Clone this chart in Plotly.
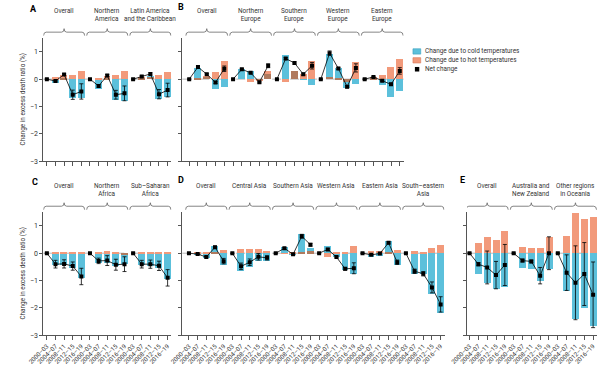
import plotly.graph_objects as go

W, H = 600, 368

periods = ["2000–03", "2004–07", "2008–11", "2012–15", "2016–19"]

# Panel A - Americas
groups_A = ["Overall", "Northern<br>America", "Latin America<br>and the Caribbean"]
cold_A = [0, -0.13, 0.02, -0.71, -0.70, 0, -0.35, 0.03, -0.76, -0.80, 0, 0.05, 0.12, -0.73, -0.65]
hot_A = [0, 0.06, 0.15, 0.16, 0.28, 0, 0.05, 0.12, 0.13, 0.30, 0, 0.06, 0.08, 0.16, 0.25]
net_A = [0, -0.07, 0.17, -0.57, -0.45, 0, -0.25, 0.13, -0.57, -0.52, 0, 0.10, 0.19, -0.55, -0.40]
err_A = [0, 0.03, 0.03, 0.17, 0.28, 0, 0.05, 0.04, 0.16, 0.27, 0, 0.03, 0.04, 0.17, 0.25]

# Panel B - Europe
groups_B = ["Overall", "Northern<br>Europe", "Southern<br>Europe", "Western<br>Europe", "Eastern<br>Europe"]
cold_B = [0, 0.41, 0.08, -0.37, -0.28, 0, 0.38, 0.31, -0.03, 0.20, 0, 0.89, 0.28, -0.02, -0.20,
          0, 0.92, 0.42, -0.31, -0.17, 0, 0.03, -0.22, -0.65, -0.42]
hot_B = [0, 0.05, 0.10, 0.25, 0.65, 0, 0.0, -0.10, -0.08, 0.29, 0, -0.10, 0.30, 0.20, 0.67,
         0, 0.08, 0.02, -0.10, 0.61, 0, 0.08, 0.16, 0.45, 0.75]
net_B = [0, 0.44, 0.18, -0.12, 0.38, 0, 0.36, 0.23, -0.11, 0.49, 0, 0.75, 0.59, 0.18, 0.49,
         0, 0.95, 0.39, -0.28, 0.41, 0, 0.08, -0.06, -0.19, 0.30]
err_B = [0, 0.03, 0.03, 0.04, 0.10, 0, 0.03, 0.03, 0.03, 0.07, 0, 0.04, 0.04, 0.04, 0.12,
         0, 0.08, 0.04, 0.04, 0.15, 0, 0.02, 0.03, 0.04, 0.12]

# Panel C - Africa
groups_C = ["Overall", "Northern<br>Africa", "Sub–Saharan<br>Africa"]
cold_C = [0, -0.45, -0.45, -0.53, -0.90, 0, -0.35, -0.35, -0.47, -0.39, 0, -0.45, -0.46, -0.54, -0.95]
hot_C = [0, 0.02, 0.02, 0.02, 0.02, 0, 0.02, 0.07, 0.03, -0.05, 0, 0.02, 0.02, 0.02, 0.02]
net_C = [0, -0.40, -0.39, -0.47, -0.85, 0, -0.28, -0.27, -0.42, -0.40, 0, -0.40, -0.40, -0.46, -0.90]
err_C = [0, 0.14, 0.15, 0.15, 0.30, 0, 0.10, 0.18, 0.20, 0.27, 0, 0.14, 0.15, 0.17, 0.30]

# Panel D - Asia
groups_D = ["Overall", "Central Asia", "Southern Asia", "Western Asia", "Eastern Asia", "South–eastern<br>Asia"]
cold_D = [0, -0.04, -0.18, 0.25, -0.42, 0, -0.64, -0.50, -0.30, -0.28, 0, 0.23, -0.04, 0.70, 0.20,
          0, 0.25, -0.16, -0.63, -0.78, 0, -0.13, -0.09, 0.43, -0.45, 0, -0.78, -0.75, -1.50, -2.20]
hot_D = [0, 0.02, 0.05, 0.03, 0.11, 0, 0.15, 0.15, 0.15, 0.08, 0, -0.03, 0.02, 0.03, 0.07,
         0, -0.13, 0.03, 0.04, 0.25, 0, 0.06, 0.08, 0.04, 0.11, 0, 0.07, 0.02, 0.18, 0.29]
net_D = [0, -0.03, -0.14, 0.22, -0.29, 0, -0.48, -0.33, -0.13, -0.17, 0, 0.18, -0.04, 0.62, 0.31,
         0, 0.14, -0.14, -0.57, -0.55, 0, -0.06, -0.01, 0.38, -0.33, 0, -0.66, -0.75, -1.25, -1.87]
err_D = [0, 0.02, 0.03, 0.04, 0.10, 0, 0.12, 0.12, 0.12, 0.08, 0, 0.03, 0.03, 0.07, 0.05,
         0, 0.04, 0.03, 0.05, 0.20, 0, 0.02, 0.02, 0.04, 0.08, 0, 0.08, 0.08, 0.20, 0.28]

# Panel E - Oceania
groups_E = ["Overall", "Australia and<br>New Zealand", "Other regions<br>in Oceania"]
cold_E = [0, -0.76, -1.10, -1.33, -1.25, 0, -0.53, -0.58, -1.02, -0.59, 0, -1.37, -2.40, -2.00, -2.67]
hot_E = [0, 0.35, 0.57, 0.47, 0.80, 0, 0.23, 0.20, 0.18, 0.60, 0, 0.62, 1.45, 1.23, 1.33]
net_E = [0, -0.40, -0.52, -0.80, -0.43, 0, -0.27, -0.30, -0.82, 0.0, 0, -0.71, -1.08, -0.76, -1.52]
err_E = [0, 0.06, 0.60, 0.50, 0.75, 0, 0.05, 0.05, 0.30, 0.60, 0, 0.65, 1.35, 1.15, 1.20]

COLD = "#5cc0db"
HOT = "#f29a7b"
OVER = "#b07a5e"
AX = "#555555"
TXT = "#333333"
FONT = "Roboto, Arial, sans-serif"
FS = 6.4


def fx(px):
    return px / W


def fy(py):
    return 1 - py / H


# layout geometry (pixels)
TOP = (38.5, 163.0)
BOT = (214.5, 339.0)
panels = [
    dict(letter="A", groups=groups_A, cold=cold_A, hot=hot_A, net=net_A, err=err_A,
         xpx=(27, 159), start=-0.42, row=TOP, labels=True, letter_pos=(17, 9)),
    dict(letter="B", groups=groups_B, cold=cold_B, hot=hot_B, net=net_B, err=err_B,
         xpx=(170, 398), start=-0.8, row=TOP, labels=False, letter_pos=(169, 7)),
    dict(letter="C", groups=groups_C, cold=cold_C, hot=hot_C, net=net_C, err=err_C,
         xpx=(27, 159), start=-0.42, row=BOT, labels=True, letter_pos=(19, 184)),
    dict(letter="D", groups=groups_D, cold=cold_D, hot=hot_D, net=net_D, err=err_D,
         xpx=(170, 440), start=-0.78, row=BOT, labels=False, letter_pos=(169, 182)),
    dict(letter="E", groups=groups_E, cold=cold_E, hot=hot_E, net=net_E, err=err_E,
         xpx=(463, 597), start=-0.3, row=BOT, labels=False, letter_pos=(459, 182)),
]

fig = go.Figure()
shapes = []
annotations = []

for k, p in enumerate(panels):
    sfx = "" if k == 0 else str(k + 1)
    xa, ya = "x" + sfx, "y" + sfx
    n = len(p["cold"])
    xs = list(range(n))
    overlap = []
    for c, h in zip(p["cold"], p["hot"]):
        if c * h > 0:
            overlap.append(min(abs(c), abs(h)) * (1 if c > 0 else -1))
        else:
            overlap.append(0)
    fig.add_trace(go.Bar(x=xs, y=p["cold"], marker=dict(color=COLD, line=dict(width=0)),
                         width=0.8, xaxis=xa, yaxis=ya, showlegend=False))
    fig.add_trace(go.Bar(x=xs, y=p["hot"], marker=dict(color=HOT, line=dict(width=0)),
                         width=0.8, xaxis=xa, yaxis=ya, showlegend=False))
    fig.add_trace(go.Bar(x=xs, y=overlap, marker=dict(color=OVER, line=dict(width=0)),
                         width=0.8, xaxis=xa, yaxis=ya, showlegend=False))
    # net change line, broken between groups
    lx, ly, le = [], [], []
    for gi in range(len(p["groups"])):
        for j in range(5):
            i = gi * 5 + j
            lx.append(i)
            ly.append(p["net"][i])
            le.append(p["err"][i] if j > 0 else 0)
        lx.append(None)
        ly.append(None)
        le.append(None)
    fig.add_trace(go.Scatter(x=lx, y=ly, mode="lines+markers",
                             line=dict(color="black", width=0.8),
                             marker=dict(symbol="square", size=4, color="black"),
                             error_y=dict(type="data", array=le, color="black", thickness=0.8, width=2),
                             xaxis=xa, yaxis=ya, showlegend=False, connectgaps=False))

    end = (n - 1) + 0.45
    dom_x = [fx(p["xpx"][0]), fx(p["xpx"][1])]
    dom_y = [fy(p["row"][1]), fy(p["row"][0])]
    bottom = p["row"] is BOT
    xaxis = dict(domain=dom_x, anchor=ya, range=[p["start"], end], showline=True, linecolor=AX,
                 linewidth=0.8, ticks="outside", ticklen=4, tickcolor=AX, tickwidth=0.8,
                 showgrid=False, zeroline=False, tickvals=xs,
                 ticktext=[periods[i % 5] for i in xs] if bottom else [""] * n,
                 showticklabels=bottom, tickangle=-45,
                 tickfont=dict(size=6.2, color=TXT, family=FONT))
    yaxis = dict(domain=dom_y, anchor=xa, range=[-3, 1.5], showline=True, linecolor=AX,
                 linewidth=0.8, ticks="outside", ticklen=3, tickcolor=AX, tickwidth=0.8,
                 showgrid=False, zeroline=False, tickvals=[-3, -2, -1, 0, 1],
                 showticklabels=p["labels"], tickfont=dict(size=7, color=TXT, family=FONT))
    fig.update_layout(**{"xaxis" + sfx: xaxis, "yaxis" + sfx: yaxis})

    # dashed zero line
    shapes.append(dict(type="line", xref=xa, yref=ya, x0=p["start"], x1=end, y0=0, y1=0,
                       line=dict(color="#9a9a9a", width=0.7, dash="dash"), layer="below"))

    # group braces and labels
    base_py = p["row"][0] - 6.0
    ybase, yend, ypeak = fy(base_py), fy(base_py + 3.5), fy(base_py - 3.5)
    lab_py = p["row"][0] - 33.0
    for gi, g in enumerate(p["groups"]):
        x0 = gi * 5 - 0.38
        x1 = gi * 5 + 4 + 0.38
        xm = (x0 + x1) / 2
        d = 0.3
        path = (f"M {x0},{yend} Q {x0},{ybase} {x0 + d},{ybase} L {xm - d},{ybase} "
                f"Q {xm},{ybase} {xm},{ypeak} Q {xm},{ybase} {xm + d},{ybase} "
                f"L {x1 - d},{ybase} Q {x1},{ybase} {x1},{yend}")
        shapes.append(dict(type="path", xref=xa, yref="paper", path=path,
                           line=dict(color="#666666", width=0.8)))
        annotations.append(dict(x=xm, y=fy(lab_py), xref=xa, yref="paper", text=g,
                                showarrow=False, yanchor="top", xanchor="center",
                                font=dict(size=FS, color=TXT, family=FONT)))
    annotations.append(dict(x=fx(p["letter_pos"][0]), y=fy(p["letter_pos"][1]), xref="paper",
                            yref="paper", text="<b>" + p["letter"] + "</b>", showarrow=False,
                            xanchor="center", yanchor="middle",
                            font=dict(size=9, color="black", family=FONT)))

# y-axis titles
for row in (TOP, BOT):
    annotations.append(dict(x=fx(6), y=fy((row[0] + row[1]) / 2), xref="paper", yref="paper",
                            text="Change in excess death ratio (%)", textangle=-90,
                            showarrow=False, xanchor="center", yanchor="middle",
                            font=dict(size=FS, color=TXT, family=FONT)))

# legend (manual)
legend_items = [("Change due to cold temperatures", COLD, "#3a9fbd", 52),
                ("Change due to hot temperatures", HOT, "#d9785a", 61),
                ("Net change", "black", "black", 70)]
for text, col, lc, cy in legend_items:
    if text == "Net change":
        shapes.append(dict(type="rect", xref="paper", yref="paper", x0=fx(409.5), x1=fx(414),
                           y0=fy(cy + 2.3), y1=fy(cy - 2.3), fillcolor=col, line=dict(width=0)))
    else:
        shapes.append(dict(type="rect", xref="paper", yref="paper", x0=fx(407.5), x1=fx(415.5),
                           y0=fy(cy + 2.7), y1=fy(cy - 2.7), fillcolor=col,
                           line=dict(color=lc, width=0.6)))
    annotations.append(dict(x=fx(418), y=fy(cy), xref="paper", yref="paper", text=text,
                            showarrow=False, xanchor="left", yanchor="middle",
                            font=dict(size=FS, color=TXT, family=FONT)))

fig.update_layout(width=W, height=H, margin=dict(l=0, r=0, t=0, b=0),
                  paper_bgcolor="white", plot_bgcolor="rgba(0,0,0,0)",
                  barmode="overlay", bargap=0, showlegend=False,
                  shapes=shapes, annotations=annotations,
                  font=dict(family=FONT, color=TXT))

fig.write_html("out.html", config={"displayModeBar": False},
               post_script="document.body.style.margin='0px';")
